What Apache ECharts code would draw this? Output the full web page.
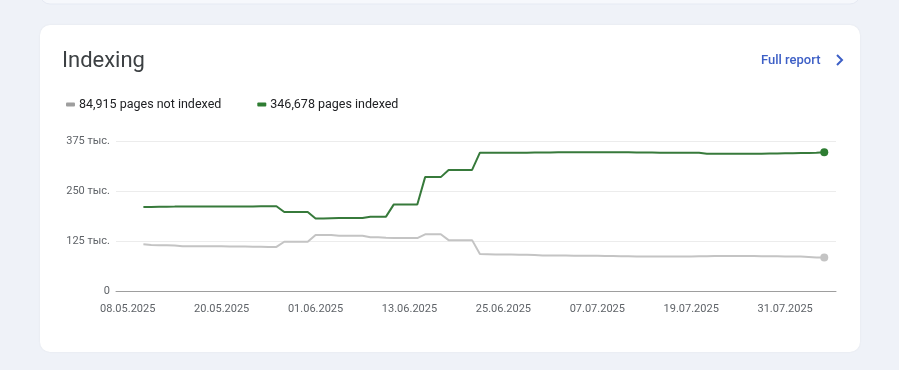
<!DOCTYPE html>
<html>
<head>
<meta charset="utf-8">
<script src="https://cdn.jsdelivr.net/npm/echarts@6/dist/echarts.min.js"></script>
<style>
html,body{margin:0;padding:0;background:#eff2f8;}
#c{width:899px;height:370px;}
</style>
</head>
<body>
<div id="c"></div>
<script>
// Axis spans 07.05.2025 .. 06.08.2025 (one category per day); data runs 10.05 .. 05.08
var axisStart = [2025, 4, 7];
var axisDays = 92;
var dataOffset = 3; // 10.05 is the 4th category
var tickLabels = ['08.05.2025','20.05.2025','01.06.2025','13.06.2025','25.06.2025','07.07.2025','19.07.2025','31.07.2025'];
var yTicks = [0, 125, 250, 375];

var legendNames = ['84,915 pages not indexed', '346,678 pages indexed'];

// values in thousands, 10.05.2025 .. 05.08.2025
var notIndexed = [
  117.5,116,115,115,114.5,113,113,113,112.5,112.5,112.5,112,112,112,111.5,111.5,111,111,
  124,124,124,124,141,141,140.5,139,139,139,139,135,135,134,133.5,133,133,133,
  142.5,142.5,142.5,128,128,128,128,
  93.5,93,92.5,92,92,91.5,91.5,91,90,90,89.5,89.5,89,89,89,89,88.5,88.5,88,88,87.5,87.5,
  87,87,87,87,87,87,88,88,88.5,88.5,88.5,88.5,88.5,88.5,88,88,88,87.5,87.5,87,86,85,84.915
];
var indexed = [
  210.5,210.8,211,211.2,211.5,212,212,212,212,212,212,212,212,212,212,212.5,212.5,212.5,
  198,198,198,198,182,182,182.5,183,183,183,183,186.5,186.5,186.5,217,217,217,217,
  285,285,285,303,303,303,303,
  346,346,346,346,346,346,346,346.5,346.5,346.5,347,347,347,347,347,347,347,347,347,347,
  346.5,346.5,346.5,346,346,346,346,346,345.5,343.5,343,343,343,343,343,343.5,343.5,
  344,344,344.5,344.5,345,345,345.5,346.7
];

function pad2(n){return (n<10?'0':'')+n;}
var categories = [];
for (var i = 0; i < axisDays; i++) {
  var d = new Date(Date.UTC(axisStart[0], axisStart[1], axisStart[2] + i));
  categories.push(pad2(d.getUTCDate()) + '.' + pad2(d.getUTCMonth()+1) + '.' + d.getUTCFullYear());
}
function padSeries(arr){
  var out = [];
  for (var i = 0; i < axisDays; i++) {
    var k = i - dataOffset;
    out.push(k >= 0 && k < arr.length ? arr[k] : null);
  }
  return out;
}
var lastIdx = dataOffset + indexed.length - 1;

var chart = echarts.init(document.getElementById('c'), null, {renderer:'canvas'});
chart.setOption({
  backgroundColor: '#eff2f8',
  animation: false,
  graphic: [
    {type:'rect', z:-10, shape:{x:40, y:-20, width:820, height:24, r:10}, style:{fill:'#f6f8fc', stroke:'#e6eaf3', lineWidth:1}},
    {type:'rect', z:-10, shape:{x:40, y:25, width:820, height:327, r:10}, style:{fill:'#ffffff', shadowBlur:2, shadowColor:'rgba(60,64,67,0.08)'}},
    {type:'text', left:62, top:50, style:{text:'Indexing', font:'400 22px Roboto, "Open Sans", sans-serif', fill:'#3c4043'}},
    {type:'text', left:761, top:54, style:{text:'Full report', font:'500 13px Roboto, sans-serif', fill:'#3d5fc6'}},
    {type:'polyline', shape:{points:[[837,55],[842,60],[837,65]]}, style:{stroke:'#3d5fc6', lineWidth:2, fill:null}}
  ],
  legend: {
    left: 61, top: 93,
    itemWidth: 9, itemHeight: 4, itemGap: 36,
    icon: 'roundRect',
    textStyle: {fontFamily:'Roboto, sans-serif', fontSize:12.5, color:'#202124', padding:[0,0,0,-1]},
    data: [
      {name: legendNames[0], itemStyle:{color:'#9e9e9e'}},
      {name: legendNames[1], itemStyle:{color:'#2e7d32'}}
    ]
  },
  grid: {left:116, right:63, top:141, bottom:78.5, containLabel:false},
  xAxis: {
    type:'category',
    data: categories,
    boundaryGap: true,
    axisLine: {lineStyle:{color:'#9e9e9e', width:1}},
    axisTick: {show:false},
    axisLabel: {
      interval: function(idx, val){ return tickLabels.indexOf(val) >= 0; },
      color:'#5f6368', fontFamily:'Roboto, sans-serif', fontSize:11, margin:12
    },
    splitLine: {show:false}
  },
  yAxis: {
    type:'value', min:yTicks[0], max:yTicks[yTicks.length-1], interval:yTicks[1]-yTicks[0],
    axisLine:{show:false}, axisTick:{show:false},
    axisLabel:{color:'#5f6368', fontFamily:'Roboto, sans-serif', fontSize:11, margin:6,
      formatter:function(v){ return v === 0 ? '0' : v + ' тыс.'; }},
    splitLine:{lineStyle:{color:'#ececec', width:1}}
  },
  series: [
    {
      name: legendNames[0], type:'line', data: padSeries(notIndexed),
      color:'#9e9e9e',
      lineStyle:{color:'#c4c4c4', width:2},
      itemStyle:{color:'#c4c4c4'},
      symbol:'circle', showSymbol:true, showAllSymbol:true,
      symbolSize:function(v, p){ return p.dataIndex === lastIdx ? 8 : 0; },
      z: 2
    },
    {
      name: legendNames[1], type:'line', data: padSeries(indexed),
      color:'#2e7d32',
      lineStyle:{color:'#377a3b', width:2},
      itemStyle:{color:'#2e7d32'},
      symbol:'circle', showSymbol:true, showAllSymbol:true,
      symbolSize:function(v, p){ return p.dataIndex === lastIdx ? 8 : 0; },
      z: 3
    }
  ]
});
</script>
</body>
</html>
